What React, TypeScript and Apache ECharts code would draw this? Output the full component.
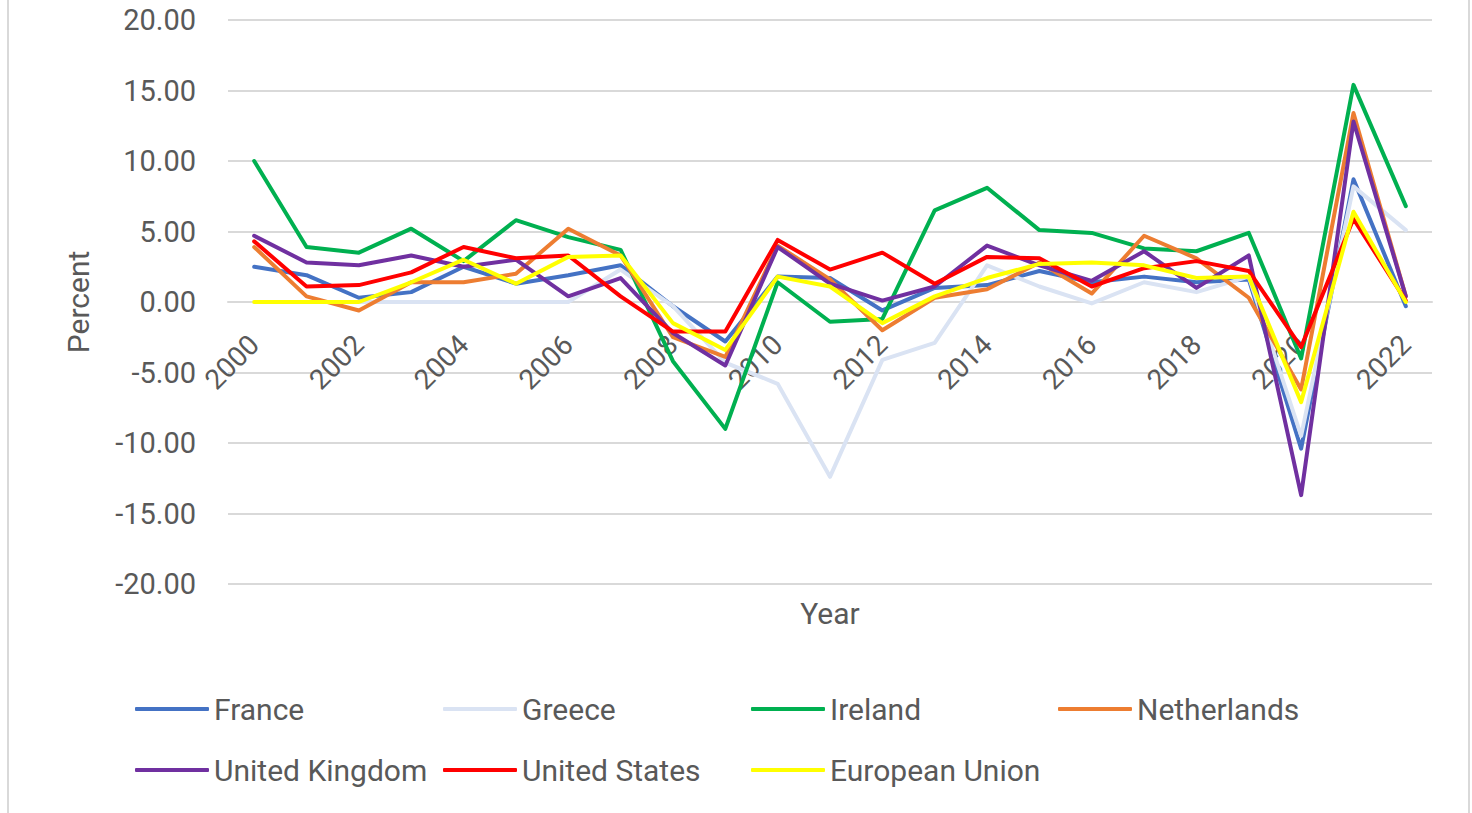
import React, { useEffect, useRef } from "react";
import * as echarts from "echarts";

const years = ["2000","2001","2002","2003","2004","2005","2006","2007","2008","2009","2010","2011","2012","2013","2014","2015","2016","2017","2018","2019","2020","2021","2022"];

const france = [2.5, 1.9, 0.3, 0.7, 2.5, 1.3, 1.9, 2.6, -0.3, -2.8, 1.8, 1.7, -0.6, 1.0, 1.2, 2.2, 1.4, 1.8, 1.4, 1.6, -10.4, 8.7, -0.3];
const greece = [0, 0, 0, 0, 0, 0, 0, 2.3, -0.3, -4.3, -5.8, -12.4, -4.1, -2.9, 2.6, 1.1, -0.1, 1.4, 0.7, 1.8, -9.5, 8.2, 5.1];
const ireland = [10.0, 3.9, 3.5, 5.2, 2.9, 5.8, 4.6, 3.7, -4.2, -9.0, 1.4, -1.4, -1.2, 6.5, 8.1, 5.1, 4.9, 3.8, 3.6, 4.9, -4.0, 15.4, 6.8];
const netherlands = [3.9, 0.4, -0.6, 1.4, 1.4, 2.0, 5.2, 3.3, -2.5, -3.9, 4.0, 1.6, -2.0, 0.3, 0.9, 2.8, 0.6, 4.7, 3.1, 0.3, -6.2, 13.4, 0.4];
const unitedKingdom = [4.7, 2.8, 2.6, 3.3, 2.5, 3.0, 0.4, 1.7, -2.2, -4.5, 3.9, 1.3, 0.1, 1.1, 4.0, 2.6, 1.5, 3.6, 1.0, 3.3, -13.7, 12.8, 0.4];
const unitedStates = [4.3, 1.1, 1.2, 2.1, 3.9, 3.1, 3.3, 0.4, -2.1, -2.1, 4.4, 2.3, 3.5, 1.3, 3.2, 3.1, 1.1, 2.4, 2.9, 2.2, -3.2, 5.9, 0.1];
const europeanUnion = [0, 0, 0, 1.4, 3.0, 1.3, 3.2, 3.3, -1.5, -3.4, 1.8, 1.1, -1.5, 0.4, 1.7, 2.7, 2.8, 2.6, 1.7, 1.8, -7.1, 6.4, 0.0];

const seriesNames = ["France", "Greece", "Ireland", "Netherlands", "United Kingdom", "United States", "European Union"];
const seriesValues = [france, greece, ireland, netherlands, unitedKingdom, unitedStates, europeanUnion];
const seriesColors = ["#4472c4", "#dae3f3", "#00b050", "#ed7d31", "#7030a0", "#ff0000", "#ffff00"];

const yTicks = { min: -20, max: 20, interval: 5 };

const legendColumns = [
  ["France", "United Kingdom"],
  ["Greece", "United States"],
  ["Ireland", "European Union"],
  ["Netherlands"],
];
const legendLefts = [135, 443, 751, 1058];

const FONT = "Roboto";
const TEXT = "#595959";

// grid geometry
const GRID_TOP = 20;
const GRID_BOTTOM_Y = 584;
const ZERO_Y = 302;

export default function App() {
  const ref = useRef<HTMLDivElement>(null);
  useEffect(() => {
    const chart = echarts.init(ref.current!, null, { renderer: "svg" });
    chart.setOption({
      animation: false,
      backgroundColor: "#ffffff",
      textStyle: { fontFamily: FONT },
      grid: {
        left: 228,
        right: 40,
        top: GRID_TOP,
        bottom: 813 - GRID_BOTTOM_Y,
        containLabel: false,
        outerBoundsMode: "none",
      },
      xAxis: {
        type: "category",
        data: years,
        boundaryGap: true,
        position: "bottom",
        offset: -(GRID_BOTTOM_Y - ZERO_Y),
        name: "Year",
        nameLocation: "middle",
        nameGap: 293,
        nameTextStyle: { fontFamily: FONT, fontSize: 30, color: TEXT, lineHeight: 36 },
        axisLine: { show: true, onZero: false, lineStyle: { color: "#d9d9d9", width: 2 } },
        axisTick: { show: false },
        axisLabel: { interval: 1, rotate: 45, margin: 38, fontFamily: FONT, fontSize: 28, color: TEXT },
        splitLine: { show: false },
      },
      yAxis: {
        type: "value",
        min: yTicks.min,
        max: yTicks.max,
        interval: yTicks.interval,
        name: "Percent",
        nameLocation: "middle",
        nameGap: 132,
        nameTextStyle: { fontFamily: FONT, fontSize: 30, color: TEXT, lineHeight: 36 },
        axisLine: { show: false },
        axisTick: { show: false },
        axisLabel: { margin: 32, fontFamily: FONT, fontSize: 29, color: TEXT, formatter: (v: number) => v.toFixed(2) },
        splitLine: { show: true, lineStyle: { color: "#d9d9d9", width: 2 } },
      },
      legend: legendColumns.map((col, i) => ({
        data: col,
        orient: "vertical",
        left: legendLefts[i],
        top: 691,
        icon: "roundRect",
        itemWidth: 74,
        itemHeight: 4,
        itemGap: 25,
        padding: 0,
        selectedMode: false,
        textStyle: { fontFamily: FONT, fontSize: 30, color: TEXT, lineHeight: 36 },
      })),
      graphic: [
        { type: "line", shape: { x1: 8, y1: 0, x2: 8, y2: 813 }, style: { stroke: "#d9d9d9", lineWidth: 2 } },
        { type: "line", shape: { x1: 1469, y1: 0, x2: 1469, y2: 813 }, style: { stroke: "#d9d9d9", lineWidth: 2 } },
      ],
      series: seriesNames.map((name, i) => ({
        name,
        type: "line",
        data: seriesValues[i],
        symbol: "none",
        smooth: false,
        color: seriesColors[i],
        lineStyle: { color: seriesColors[i], width: 4, cap: "round", join: "round" },
      })),
    });
    return () => chart.dispose();
  }, []);
  return (
    <div
      ref={ref}
      style={{ position: "fixed", left: 0, top: 0, width: 1472, height: 813, background: "#fff" }}
    />
  );
}
